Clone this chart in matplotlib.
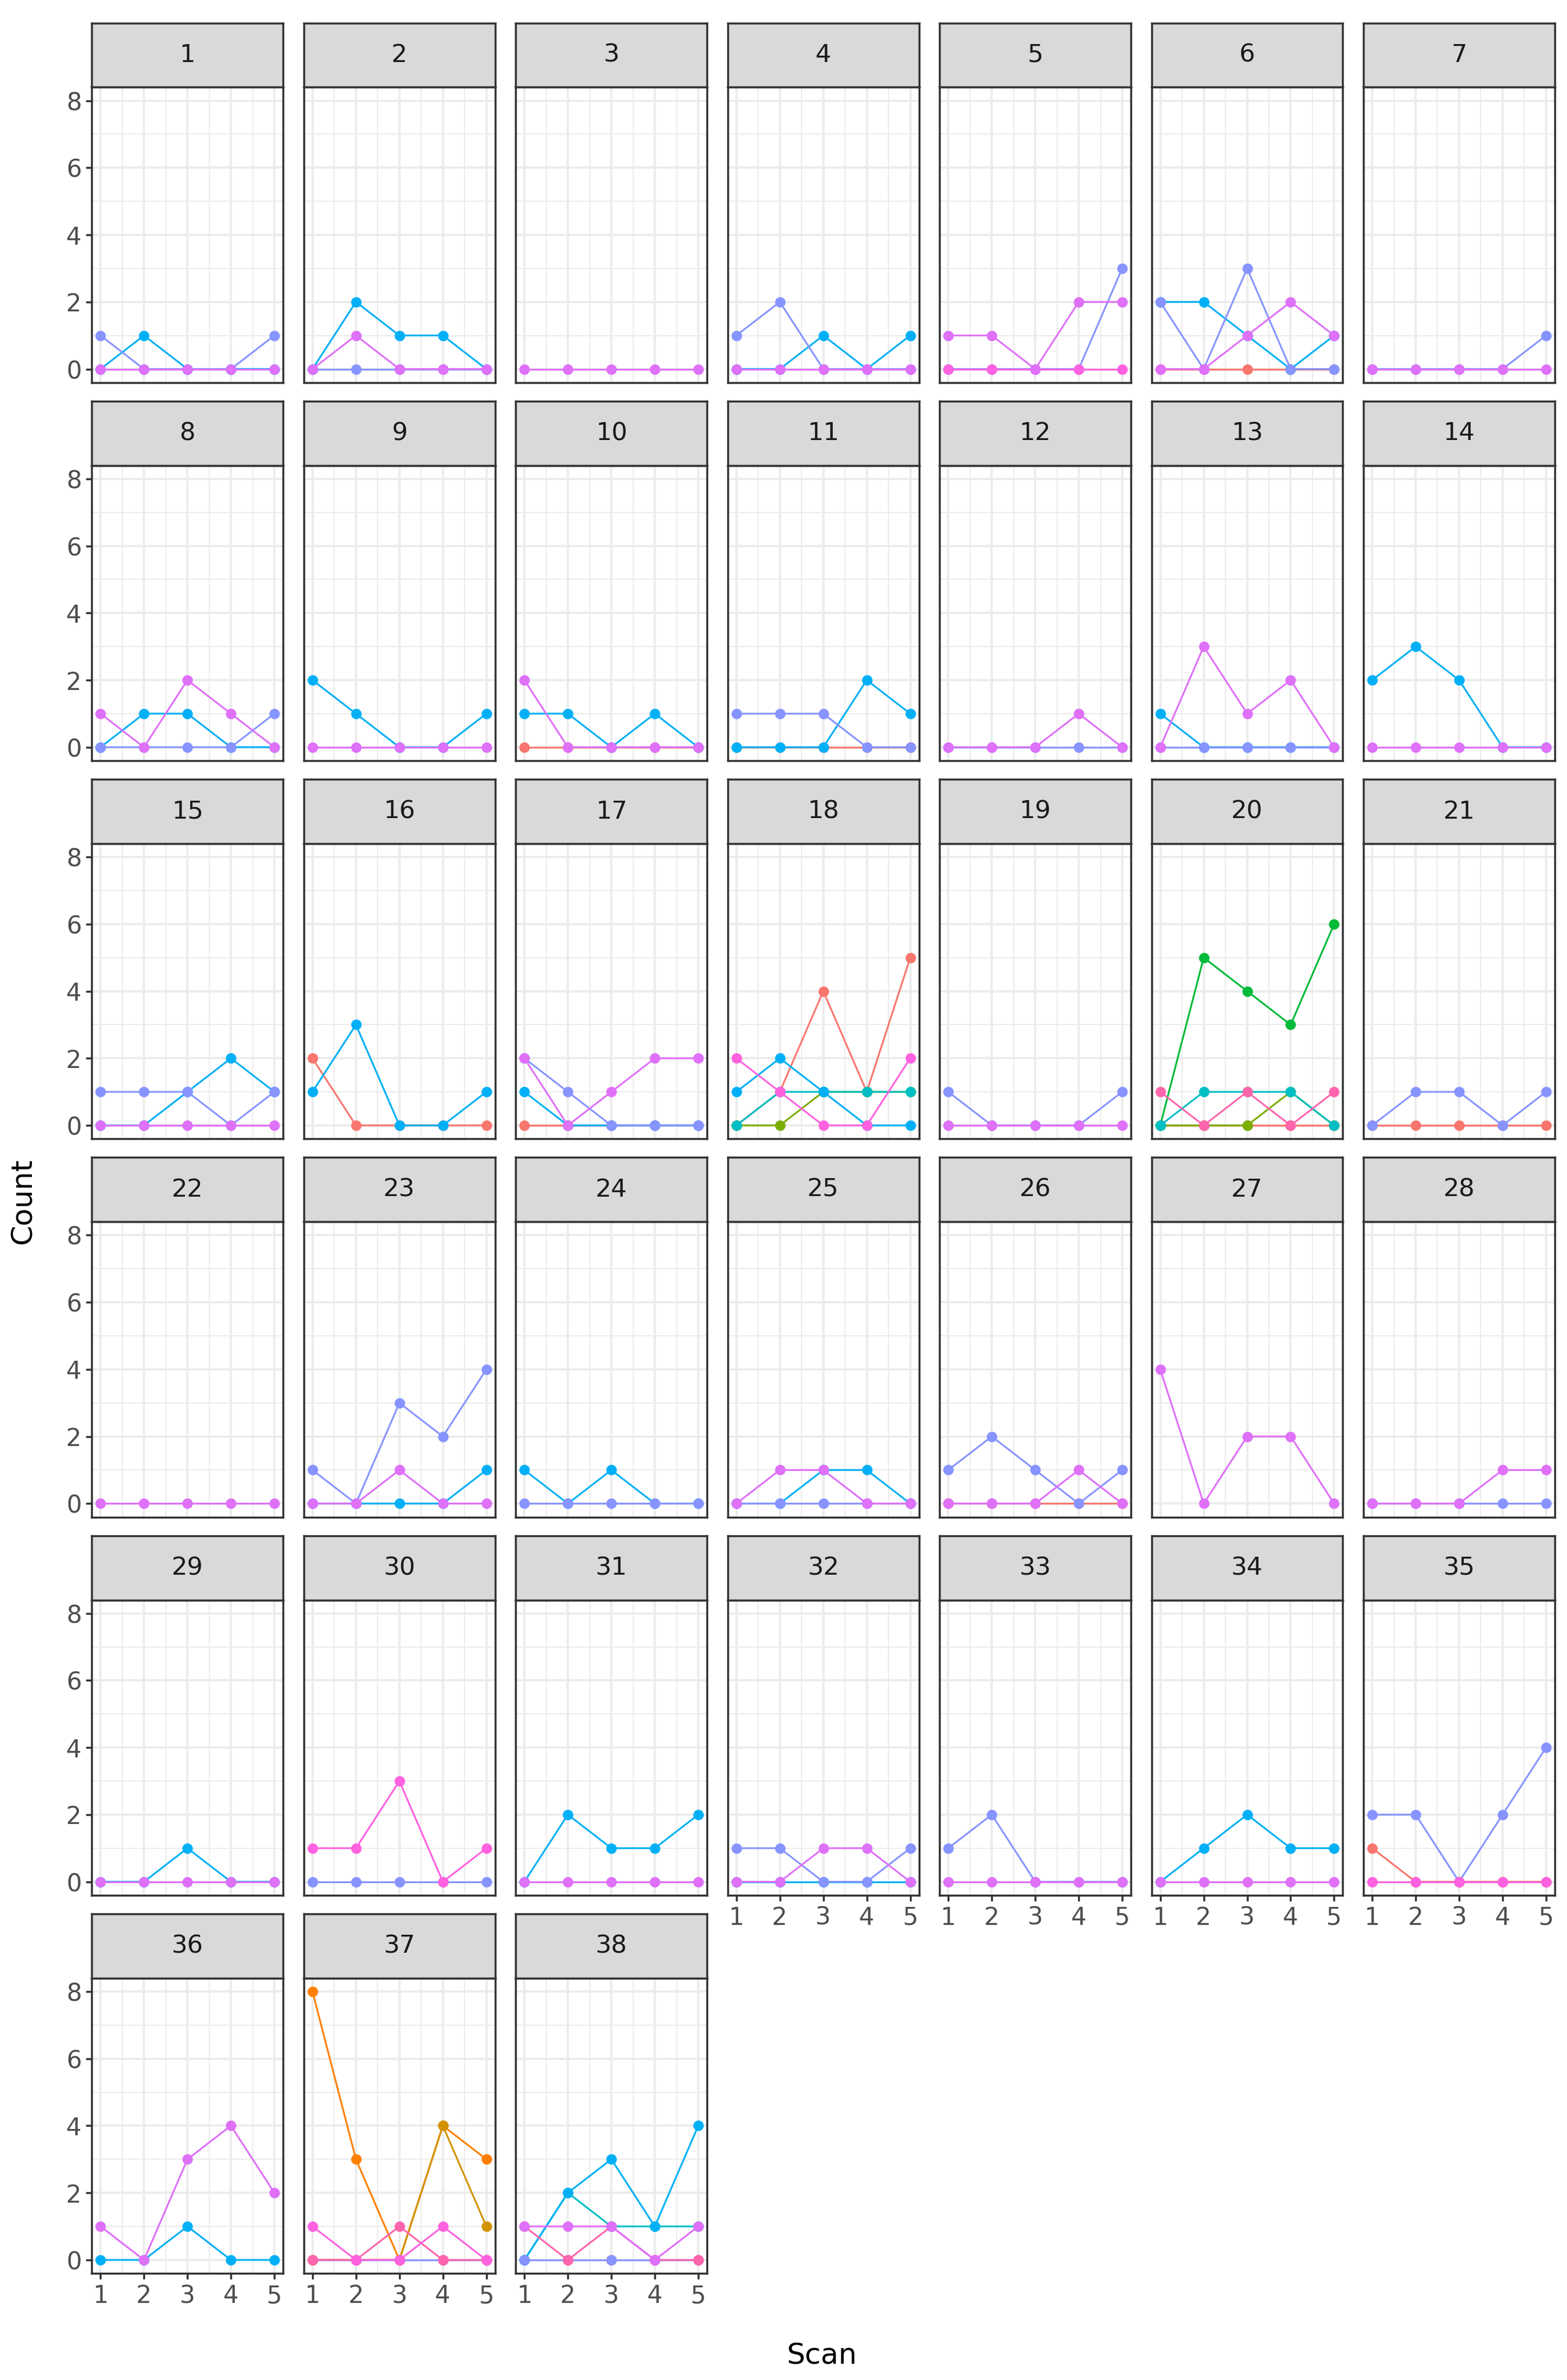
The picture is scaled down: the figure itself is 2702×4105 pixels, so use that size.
import matplotlib
matplotlib.use("Agg")
import matplotlib.pyplot as plt
from matplotlib.ticker import MultipleLocator

scans = [1, 2, 3, 4, 5]
colors = {"R": "#F8766D", "O": "#FF8000", "G": "#D39200", "Ol": "#7CAE00", "Gr": "#00BA38",
          "T": "#00BFC4", "B": "#00B0F6", "P": "#8794FF", "V": "#DF70F8", "M": "#FF61E0", "K": "#FF65AC"}
order = ["R", "O", "G", "Ol", "Gr", "T", "B", "P", "K", "M", "V"]

panels = {
    1: {"P": [1,0,0,0,1], "B": [0,1,0,0,0], "V": [0,0,0,0,0]},
    2: {"P": [0,0,0,0,0], "B": [0,2,1,1,0], "V": [0,1,0,0,0]},
    3: {"V": [0,0,0,0,0]},
    4: {"P": [1,2,0,0,0], "B": [0,0,1,0,1], "V": [0,0,0,0,0]},
    5: {"P": [0,0,0,0,3], "V": [1,1,0,2,2], "M": [0,0,0,0,0]},
    6: {"R": [0,0,0,0,0], "B": [2,2,1,0,1], "V": [0,0,1,2,1], "P": [2,0,3,0,0]},
    7: {"P": [0,0,0,0,1], "V": [0,0,0,0,0]},
    8: {"V": [1,0,2,1,0], "P": [0,0,0,0,1], "B": [0,1,1,0,0]},
    9: {"B": [2,1,0,0,1], "V": [0,0,0,0,0]},
    10: {"R": [0,0,0,0,0], "B": [1,1,0,1,0], "V": [2,0,0,0,0]},
    11: {"B": [0,0,0,2,1], "R": [0,0,0,0,0], "P": [1,1,1,0,0]},
    12: {"P": [0,0,0,0,0], "V": [0,0,0,1,0]},
    13: {"B": [1,0,0,0,0], "V": [0,3,1,2,0], "P": [0,0,0,0,0]},
    14: {"B": [2,3,2,0,0], "V": [0,0,0,0,0]},
    15: {"P": [1,1,1,0,1], "B": [0,0,1,2,1], "V": [0,0,0,0,0]},
    16: {"R": [2,0,0,0,0], "B": [1,3,0,0,1]},
    17: {"R": [0,0,0,0,0], "B": [1,0,0,0,0], "P": [2,1,0,0,0], "V": [2,0,1,2,2]},
    18: {"Ol": [0,0,1,1,1], "R": [0,1,4,1,5], "B": [1,2,1,0,0], "T": [0,1,1,1,1], "M": [2,1,0,0,2]},
    19: {"P": [1,0,0,0,1], "V": [0,0,0,0,0]},
    20: {"R": [0,0,0,0,0], "Ol": [0,0,0,1,0], "Gr": [0,5,4,3,6], "K": [1,0,1,0,1], "T": [0,1,1,1,0]},
    21: {"P": [0,1,1,0,1], "R": [0,0,0,0,0]},
    22: {"V": [0,0,0,0,0]},
    23: {"P": [1,0,3,2,4], "B": [0,0,0,0,1], "V": [0,0,1,0,0]},
    24: {"B": [1,0,1,0,0], "P": [0,0,0,0,0]},
    25: {"B": [0,0,1,1,0], "V": [0,1,1,0,0], "P": [0,0,0,0,0]},
    26: {"R": [0,0,0,0,0], "V": [0,0,0,1,0], "P": [1,2,1,0,1]},
    27: {"V": [4,0,2,2,0]},
    28: {"V": [0,0,0,1,1], "P": [0,0,0,0,0]},
    29: {"B": [0,0,1,0,0], "V": [0,0,0,0,0]},
    30: {"P": [0,0,0,0,0], "M": [1,1,3,0,1]},
    31: {"B": [0,2,1,1,2], "V": [0,0,0,0,0]},
    32: {"B": [0,0,0,0,0], "V": [0,0,1,1,0], "P": [1,1,0,0,1]},
    33: {"P": [1,2,0,0,0], "V": [0,0,0,0,0]},
    34: {"B": [0,1,2,1,1], "V": [0,0,0,0,0]},
    35: {"R": [1,0,0,0,0], "P": [2,2,0,2,4], "M": [0,0,0,0,0]},
    36: {"B": [0,0,1,0,0], "V": [1,0,3,4,2]},
    37: {"P": [0,0,0,0,0], "R": [0,0,0,0,0], "O": [8,3,0,4,3], "G": [0,0,0,4,1], "K": [0,0,1,0,0], "M": [1,0,0,1,0]},
    38: {"P": [0,0,0,0,0], "R": [0,0,0,0,0], "T": [0,2,1,1,1], "B": [0,2,3,1,4], "V": [1,1,1,0,1], "K": [1,0,1,0,0]},
}

W, H = 2702, 4105
fig = plt.figure(figsize=(W/100, H/100), dpi=100)
s = 2702/1024
col_left = [60, 198.5, 337, 475.5, 614, 752.5, 891]
pw = 125
strip_h = 42
plot_h = 193
row_pitch = 247.2
ncols = 7
last_row_of_col = {}
for i in range(1, 39):
    last_row_of_col[(i-1) % ncols] = (i-1)//ncols

for i in range(1, 39):
    r, c = (i-1)//ncols, (i-1) % ncols
    top = 15 + row_pitch*r
    x0 = col_left[c]*s
    y_strip_top = top*s
    y_plot_top = (top+strip_h)*s
    y_plot_bot = (top+strip_h+plot_h)*s
    ax = fig.add_axes([x0/W, 1-y_plot_bot/H, pw*s/W, (y_plot_bot-y_plot_top)/H])
    sax = fig.add_axes([x0/W, 1-y_plot_top/H, pw*s/W, (y_plot_top-y_strip_top)/H])
    sax.set_facecolor("#D9D9D9")
    sax.set_xticks([]); sax.set_yticks([])
    for sp in sax.spines.values():
        sp.set_color("#333333"); sp.set_linewidth(2.5)
    sax.text(0.5, 0.5, str(i), ha="center", va="center", fontsize=31, color="#1A1A1A", transform=sax.transAxes)

    ax.set_xlim(0.8, 5.2); ax.set_ylim(-0.4, 8.4)
    ax.xaxis.set_major_locator(MultipleLocator(1)); ax.xaxis.set_minor_locator(MultipleLocator(0.5))
    ax.yaxis.set_major_locator(MultipleLocator(2)); ax.yaxis.set_minor_locator(MultipleLocator(1))
    ax.grid(which="major", color="#EBEBEB", linewidth=2.6)
    ax.grid(which="minor", color="#EBEBEB", linewidth=1.3)
    ax.set_axisbelow(True)
    for sp in ax.spines.values():
        sp.set_color("#333333"); sp.set_linewidth(2.5)
    ax.tick_params(which="minor", length=0)
    ax.tick_params(which="major", length=7, width=2.5, color="#333333", labelsize=30, labelcolor="#4D4D4D", pad=6)
    if c != 0:
        ax.tick_params(axis="y", length=0, labelleft=False)
    if r != last_row_of_col[c]:
        ax.tick_params(axis="x", length=0, labelbottom=False)
    data = panels[i]
    for k in order:
        if k in data:
            ax.plot(scans, data[k], color=colors[k], lw=2.2, marker="o", ms=12, zorder=3)

fig.text(15*s/W, 1-785*s/H, "Count", rotation=90, ha="center", va="center", fontsize=36, color="black")
fig.text(537*s/W, 1-1540*s/H, "Scan", ha="center", va="center", fontsize=36, color="black")
fig.savefig("out.png", dpi=100, facecolor="white")
